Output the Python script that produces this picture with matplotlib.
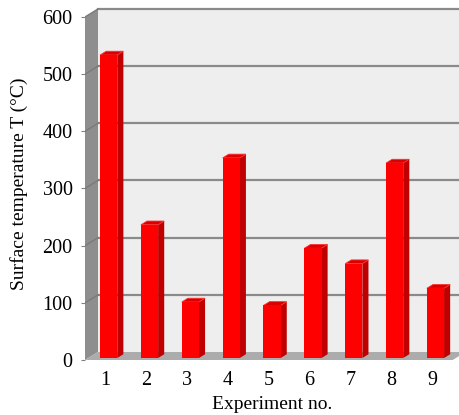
import numpy as np
import matplotlib.pyplot as plt
from matplotlib.patches import Polygon

# Dados
experiments = [1, 2, 3, 4, 5, 6, 7, 8, 9]
temperatures = [530, 233, 98, 350, 92, 192, 165, 341, 122]
y_ticks = [0, 100, 200, 300, 400, 500, 600]

plt.rcParams['font.family'] = ['Liberation Serif', 'DejaVu Serif']

fig = plt.figure(figsize=(4.59, 4.15), dpi=100)

# eixo frontal: x=85px, zero em y=360px, topo da parede em y=7px
px_x = 40.85                 # pixels por categoria
px_y = 0.5717                # pixels por grau
ax = fig.add_axes([85 / 459, (415 - 360) / 415, (459 - 85) / 459, (360 - 7) / 415])
x0 = 0.5
x1 = 9.5
ax.set_xlim(x0, x0 + (459 - 85) / px_x)
ax.set_ylim(0, (360 - 7) / px_y)

# deslocamento de profundidade (efeito 3D)
DX = 13 / px_x
DY = 8 / px_y
ymax = y_ticks[-1]
xr = ax.get_xlim()[1] + 1

# parede do fundo
ax.add_patch(Polygon([(x0 + DX, DY), (xr, DY), (xr, ymax + DY), (x0 + DX, ymax + DY)],
                     closed=True, facecolor='#eeeeee', edgecolor='none', zorder=0))
# parede lateral
ax.add_patch(Polygon([(x0, 0), (x0 + DX, DY), (x0 + DX, ymax + DY), (x0, ymax)],
                     closed=True, facecolor='#8e8e8e', edgecolor='none', zorder=1))
# chão
ax.add_patch(Polygon([(x0, 0), (x1, 0), (x1 + DX, DY), (x0 + DX, DY)],
                     closed=True, facecolor='#acacac', edgecolor='none', zorder=1))

# linhas de grade
for v in y_ticks[1:]:
    ax.plot([x0 + DX, xr], [v + DY, v + DY], color='#8a8a8a', lw=1.6, zorder=2)
    ax.plot([x0, x0 + DX], [v, v + DY], color='#7a7a7a', lw=1.0, zorder=2)

# barras
w = 0.42
d0 = 0.25
dd = 0.47
xs = np.array(experiments) + d0 * DX
ax.bar(xs, temperatures, width=w, bottom=d0 * DY, color='#ff0000', edgecolor='none', zorder=5)
for xc, t in zip(xs, temperatures):
    left = xc - w / 2
    right = xc + w / 2
    base = d0 * DY
    top = t + d0 * DY
    side = [(right, base), (right + dd * DX, base + dd * DY),
            (right + dd * DX, top + dd * DY), (right, top)]
    ax.add_patch(Polygon(side, closed=True, facecolor='#c00000', edgecolor='none', zorder=4))
    cap = [(left, top), (right, top), (right + dd * DX, top + dd * DY), (left + dd * DX, top + dd * DY)]
    ax.add_patch(Polygon(cap, closed=True, facecolor='#d80000', edgecolor='#ff3030', lw=0.6, zorder=4))

for s in ax.spines.values():
    s.set_visible(False)

ax.set_xticks(experiments)
ax.set_xticklabels([str(e) for e in experiments])
ax.set_yticks(y_ticks)
ax.set_yticklabels([str(v) for v in y_ticks])
ax.tick_params(axis='x', length=0, pad=8, labelsize=14.5)
ax.tick_params(axis='y', length=3, color='#808080', pad=6, labelsize=14.5)

ax.set_xlabel("Experiment no.", fontsize=14, labelpad=4)
ax.set_ylabel("Surface temperature T (°C)", fontsize=14, labelpad=10)

plt.savefig("out.png", dpi=100)
